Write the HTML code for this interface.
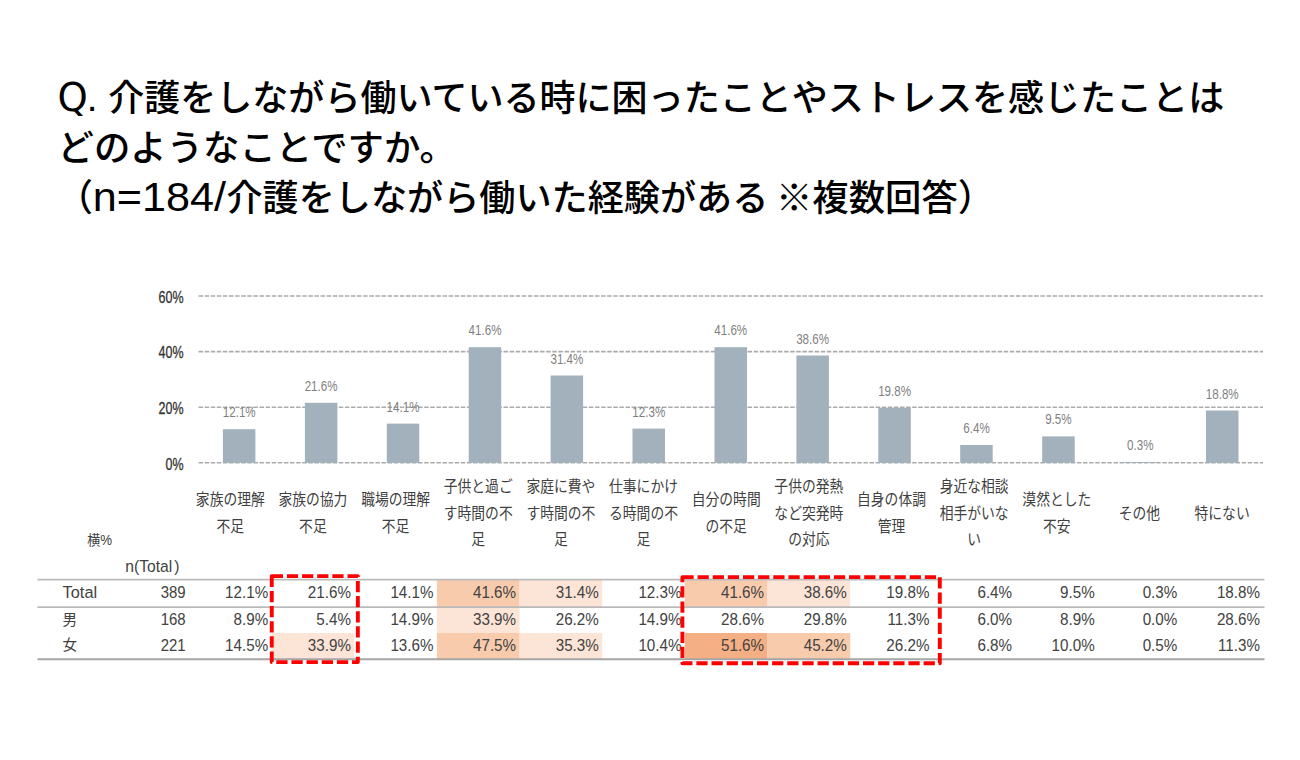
<!DOCTYPE html><html lang="ja"><head><meta charset="utf-8"><title>介護と仕事</title><style>
html,body{margin:0;padding:0;background:#fff;}body{width:1300px;height:760px;overflow:hidden;position:relative;}
svg{position:absolute;left:0;top:0;}
.t{font-family:"Noto Sans CJK JP", "Liberation Sans", sans-serif;fill:#000;}
.lat{font-family:"Liberation Sans",sans-serif;}.dv{font-family:"DejaVu Sans","Liberation Sans",sans-serif;}
.ax{font-family:"Liberation Sans",sans-serif;fill:#333;stroke:#333;stroke-width:0.3px;}
.dl{font-family:"Liberation Sans",sans-serif;fill:#7f7f7f;}
.cat{font-family:"Noto Sans CJK JP", "Liberation Sans", sans-serif;fill:#404040;}
.tb{font-family:"Liberation Sans","Noto Sans CJK JP",sans-serif;fill:#424242;}
</style></head><body>
<svg width="1300" height="760" viewBox="0 0 1300 760">
<text class="t dv" transform="translate(57.6 110.5) scale(1 1.025)" font-size="38.5" font-weight="500" textLength="30.3" lengthAdjust="spacingAndGlyphs">Q</text>
<text class="t lat" transform="translate(86.8 110.5) scale(1 1.025)" font-size="38.5" font-weight="500" >.</text>
<text class="t" transform="translate(108.2 110.5) scale(1 1.025)" font-size="36" font-weight="500" textLength="1116" lengthAdjust="spacingAndGlyphs">介護をしながら働いている時に困ったことやストレスを感じたことは</text>
<text class="t" transform="translate(57.5 161) scale(1 1.025)" font-size="36" font-weight="500" textLength="398.5" lengthAdjust="spacingAndGlyphs">どのようなことですか。</text>
<text class="t" transform="translate(57 210.5) scale(1 1.025)" font-size="36" font-weight="500" >（</text>
<text class="t lat" transform="translate(92.8 210.5) scale(1 1.025)" font-size="40" font-weight="500" textLength="133.2" lengthAdjust="spacingAndGlyphs">n=184/</text>
<text class="t" transform="translate(226.4 210.5) scale(1 1.025)" font-size="36" font-weight="500" textLength="542" lengthAdjust="spacingAndGlyphs">介護をしながら働いた経験がある</text>
<text class="t" transform="translate(776 210.5) scale(1 1.025)" font-size="36" font-weight="500" textLength="218.2" lengthAdjust="spacingAndGlyphs">※複数回答）</text>
<line x1="198.5" y1="462.8" x2="1263" y2="462.8" stroke="#ababab" stroke-width="1.6" stroke-dasharray="4.5 1.6"/>
<text class="ax" font-size="16" text-anchor="end" transform="translate(183.5 469.6) scale(0.78 1)">0%</text>
<line x1="198.5" y1="407.2" x2="1263" y2="407.2" stroke="#ababab" stroke-width="1.6" stroke-dasharray="4.5 1.6"/>
<text class="ax" font-size="16" text-anchor="end" transform="translate(183.5 414.0) scale(0.78 1)">20%</text>
<line x1="198.5" y1="351.6" x2="1263" y2="351.6" stroke="#ababab" stroke-width="1.6" stroke-dasharray="4.5 1.6"/>
<text class="ax" font-size="16" text-anchor="end" transform="translate(183.5 358.4) scale(0.78 1)">40%</text>
<line x1="198.5" y1="296.0" x2="1263" y2="296.0" stroke="#ababab" stroke-width="1.6" stroke-dasharray="4.5 1.6"/>
<text class="ax" font-size="16" text-anchor="end" transform="translate(183.5 302.8) scale(0.78 1)">60%</text>
<rect x="222.9" y="429.2" width="32.5" height="33.6" fill="#a2b1bb"/>
<text class="dl" font-size="14" text-anchor="middle" transform="translate(239.2 417.2) scale(0.83 1)">12.1%</text>
<rect x="304.9" y="402.8" width="32.5" height="60.0" fill="#a2b1bb"/>
<text class="dl" font-size="14" text-anchor="middle" transform="translate(321.1 390.8) scale(0.83 1)">21.6%</text>
<rect x="386.8" y="423.6" width="32.5" height="39.2" fill="#a2b1bb"/>
<text class="dl" font-size="14" text-anchor="middle" transform="translate(403.0 411.6) scale(0.83 1)">14.1%</text>
<rect x="468.7" y="347.2" width="32.5" height="115.6" fill="#a2b1bb"/>
<text class="dl" font-size="14" text-anchor="middle" transform="translate(485.0 335.2) scale(0.83 1)">41.6%</text>
<rect x="550.6" y="375.5" width="32.5" height="87.3" fill="#a2b1bb"/>
<text class="dl" font-size="14" text-anchor="middle" transform="translate(566.9 363.5) scale(0.83 1)">31.4%</text>
<rect x="632.5" y="428.6" width="32.5" height="34.2" fill="#a2b1bb"/>
<text class="dl" font-size="14" text-anchor="middle" transform="translate(648.8 416.6) scale(0.83 1)">12.3%</text>
<rect x="714.5" y="347.2" width="32.5" height="115.6" fill="#a2b1bb"/>
<text class="dl" font-size="14" text-anchor="middle" transform="translate(730.7 335.2) scale(0.83 1)">41.6%</text>
<rect x="796.4" y="355.5" width="32.5" height="107.3" fill="#a2b1bb"/>
<text class="dl" font-size="14" text-anchor="middle" transform="translate(812.6 343.5) scale(0.83 1)">38.6%</text>
<rect x="878.3" y="407.8" width="32.5" height="55.0" fill="#a2b1bb"/>
<text class="dl" font-size="14" text-anchor="middle" transform="translate(894.6 395.8) scale(0.83 1)">19.8%</text>
<rect x="960.2" y="445.0" width="32.5" height="17.8" fill="#a2b1bb"/>
<text class="dl" font-size="14" text-anchor="middle" transform="translate(976.5 433.0) scale(0.83 1)">6.4%</text>
<rect x="1042.2" y="436.4" width="32.5" height="26.4" fill="#a2b1bb"/>
<text class="dl" font-size="14" text-anchor="middle" transform="translate(1058.4 424.4) scale(0.83 1)">9.5%</text>
<rect x="1124.1" y="462.0" width="32.5" height="0.8" fill="#a2b1bb"/>
<text class="dl" font-size="14" text-anchor="middle" transform="translate(1140.3 450.0) scale(0.83 1)">0.3%</text>
<rect x="1206.0" y="410.5" width="32.5" height="52.3" fill="#a2b1bb"/>
<text class="dl" font-size="14" text-anchor="middle" transform="translate(1222.2 398.5) scale(0.83 1)">18.8%</text>
<text class="cat" font-size="13.8" text-anchor="middle" transform="translate(230.3 505.2) scale(1 1.125)">家族の理解</text>
<text class="cat" font-size="13.8" text-anchor="middle" transform="translate(230.3 531.8) scale(1 1.125)">不足</text>
<text class="cat" font-size="13.8" text-anchor="middle" transform="translate(312.9 505.2) scale(1 1.125)">家族の協力</text>
<text class="cat" font-size="13.8" text-anchor="middle" transform="translate(312.9 531.8) scale(1 1.125)">不足</text>
<text class="cat" font-size="13.8" text-anchor="middle" transform="translate(395.6 505.2) scale(1 1.125)">職場の理解</text>
<text class="cat" font-size="13.8" text-anchor="middle" transform="translate(395.6 531.8) scale(1 1.125)">不足</text>
<text class="cat" font-size="13.8" text-anchor="middle" transform="translate(478.2 492.0) scale(1 1.125)">子供と過ご</text>
<text class="cat" font-size="13.8" text-anchor="middle" transform="translate(478.2 518.5) scale(1 1.125)">す時間の不</text>
<text class="cat" font-size="13.8" text-anchor="middle" transform="translate(478.2 545.0) scale(1 1.125)">足</text>
<text class="cat" font-size="13.8" text-anchor="middle" transform="translate(560.9 492.0) scale(1 1.125)">家庭に費や</text>
<text class="cat" font-size="13.8" text-anchor="middle" transform="translate(560.9 518.5) scale(1 1.125)">す時間の不</text>
<text class="cat" font-size="13.8" text-anchor="middle" transform="translate(560.9 545.0) scale(1 1.125)">足</text>
<text class="cat" font-size="13.8" text-anchor="middle" transform="translate(643.5 492.0) scale(1 1.125)">仕事にかけ</text>
<text class="cat" font-size="13.8" text-anchor="middle" transform="translate(643.5 518.5) scale(1 1.125)">る時間の不</text>
<text class="cat" font-size="13.8" text-anchor="middle" transform="translate(643.5 545.0) scale(1 1.125)">足</text>
<text class="cat" font-size="13.8" text-anchor="middle" transform="translate(726.2 505.2) scale(1 1.125)">自分の時間</text>
<text class="cat" font-size="13.8" text-anchor="middle" transform="translate(726.2 531.8) scale(1 1.125)">の不足</text>
<text class="cat" font-size="13.8" text-anchor="middle" transform="translate(808.8 492.0) scale(1 1.125)">子供の発熱</text>
<text class="cat" font-size="13.8" text-anchor="middle" transform="translate(808.8 518.5) scale(1 1.125)">など突発時</text>
<text class="cat" font-size="13.8" text-anchor="middle" transform="translate(808.8 545.0) scale(1 1.125)">の対応</text>
<text class="cat" font-size="13.8" text-anchor="middle" transform="translate(891.5 505.2) scale(1 1.125)">自身の体調</text>
<text class="cat" font-size="13.8" text-anchor="middle" transform="translate(891.5 531.8) scale(1 1.125)">管理</text>
<text class="cat" font-size="13.8" text-anchor="middle" transform="translate(974.1 492.0) scale(1 1.125)">身近な相談</text>
<text class="cat" font-size="13.8" text-anchor="middle" transform="translate(974.1 518.5) scale(1 1.125)">相手がいな</text>
<text class="cat" font-size="13.8" text-anchor="middle" transform="translate(974.1 545.0) scale(1 1.125)">い</text>
<text class="cat" font-size="13.8" text-anchor="middle" transform="translate(1056.8 505.2) scale(1 1.125)">漠然とした</text>
<text class="cat" font-size="13.8" text-anchor="middle" transform="translate(1056.8 531.8) scale(1 1.125)">不安</text>
<text class="cat" font-size="13.8" text-anchor="middle" transform="translate(1139.4 518.5) scale(1 1.125)">その他</text>
<text class="cat" font-size="13.8" text-anchor="middle" transform="translate(1222.1 518.5) scale(1 1.125)">特にない</text>
<text class="tb" font-size="13" font-family="Noto Sans CJK JP" transform="translate(87.3 544.6) scale(1 1.05)">横</text>
<text class="tb" font-size="14" transform="translate(100.3 544.8) scale(0.95 1)">%</text>
<text class="tb" font-size="16.5" transform="translate(125.3 571.6) scale(0.95 1)">n(Total</text>
<text class="tb" font-size="16.5" transform="translate(174.2 571.6) scale(0.95 1)">)</text>
<rect x="436.9" y="579.5" width="82.7" height="27.5" fill="#f8cbad"/>
<rect x="519.5" y="579.5" width="82.7" height="27.5" fill="#fce4d6"/>
<rect x="684.9" y="579.5" width="82.7" height="27.5" fill="#f8cbad"/>
<rect x="767.5" y="579.5" width="82.7" height="27.5" fill="#fce4d6"/>
<rect x="436.9" y="607.0" width="82.7" height="26.0" fill="#fce4d6"/>
<rect x="271.6" y="633.0" width="82.7" height="26.0" fill="#fce4d6"/>
<rect x="436.9" y="633.0" width="82.7" height="26.0" fill="#f8cbad"/>
<rect x="519.5" y="633.0" width="82.7" height="26.0" fill="#fce4d6"/>
<rect x="684.9" y="633.0" width="82.7" height="26.0" fill="#f4b084"/>
<rect x="767.5" y="633.0" width="82.7" height="26.0" fill="#f8cbad"/>
<line x1="37.5" y1="579.7" x2="1264.5" y2="579.7" stroke="#bababa" stroke-width="1.8"/>
<line x1="37.5" y1="607.2" x2="1264.5" y2="607.2" stroke="#bababa" stroke-width="1.8"/>
<line x1="37.5" y1="659.2" x2="1264.5" y2="659.2" stroke="#a6a6a6" stroke-width="2"/>
<text class="tb" font-size="16.5" transform="translate(62.6 597.6) scale(0.99 1)">Total</text>
<text class="tb" font-size="16.8" text-anchor="end" transform="translate(185.6 597.6) scale(0.89 1)">389</text>
<text class="tb" font-size="16.8" text-anchor="end" transform="translate(268.2 597.6) scale(0.905 1)">12.1%</text>
<text class="tb" font-size="16.8" text-anchor="end" transform="translate(350.9 597.6) scale(0.905 1)">21.6%</text>
<text class="tb" font-size="16.8" text-anchor="end" transform="translate(433.5 597.6) scale(0.905 1)">14.1%</text>
<text class="tb" font-size="16.8" text-anchor="end" transform="translate(516.1 597.6) scale(0.905 1)">41.6%</text>
<text class="tb" font-size="16.8" text-anchor="end" transform="translate(598.8 597.6) scale(0.905 1)">31.4%</text>
<text class="tb" font-size="16.8" text-anchor="end" transform="translate(681.5 597.6) scale(0.905 1)">12.3%</text>
<text class="tb" font-size="16.8" text-anchor="end" transform="translate(764.1 597.6) scale(0.905 1)">41.6%</text>
<text class="tb" font-size="16.8" text-anchor="end" transform="translate(846.8 597.6) scale(0.905 1)">38.6%</text>
<text class="tb" font-size="16.8" text-anchor="end" transform="translate(929.4 597.6) scale(0.905 1)">19.8%</text>
<text class="tb" font-size="16.8" text-anchor="end" transform="translate(1012.1 597.6) scale(0.905 1)">6.4%</text>
<text class="tb" font-size="16.8" text-anchor="end" transform="translate(1094.7 597.6) scale(0.905 1)">9.5%</text>
<text class="tb" font-size="16.8" text-anchor="end" transform="translate(1177.3 597.6) scale(0.905 1)">0.3%</text>
<text class="tb" font-size="16.8" text-anchor="end" transform="translate(1260.0 597.6) scale(0.905 1)">18.8%</text>
<text class="tb" font-size="14.6" font-family="Noto Sans CJK JP" transform="translate(62.4 624.9) scale(1 1.04)">男</text>
<text class="tb" font-size="16.8" text-anchor="end" transform="translate(185.6 624.9) scale(0.89 1)">168</text>
<text class="tb" font-size="16.8" text-anchor="end" transform="translate(268.2 624.9) scale(0.905 1)">8.9%</text>
<text class="tb" font-size="16.8" text-anchor="end" transform="translate(350.9 624.9) scale(0.905 1)">5.4%</text>
<text class="tb" font-size="16.8" text-anchor="end" transform="translate(433.5 624.9) scale(0.905 1)">14.9%</text>
<text class="tb" font-size="16.8" text-anchor="end" transform="translate(516.1 624.9) scale(0.905 1)">33.9%</text>
<text class="tb" font-size="16.8" text-anchor="end" transform="translate(598.8 624.9) scale(0.905 1)">26.2%</text>
<text class="tb" font-size="16.8" text-anchor="end" transform="translate(681.5 624.9) scale(0.905 1)">14.9%</text>
<text class="tb" font-size="16.8" text-anchor="end" transform="translate(764.1 624.9) scale(0.905 1)">28.6%</text>
<text class="tb" font-size="16.8" text-anchor="end" transform="translate(846.8 624.9) scale(0.905 1)">29.8%</text>
<text class="tb" font-size="16.8" text-anchor="end" transform="translate(929.4 624.9) scale(0.905 1)">11.3%</text>
<text class="tb" font-size="16.8" text-anchor="end" transform="translate(1012.1 624.9) scale(0.905 1)">6.0%</text>
<text class="tb" font-size="16.8" text-anchor="end" transform="translate(1094.7 624.9) scale(0.905 1)">8.9%</text>
<text class="tb" font-size="16.8" text-anchor="end" transform="translate(1177.3 624.9) scale(0.905 1)">0.0%</text>
<text class="tb" font-size="16.8" text-anchor="end" transform="translate(1260.0 624.9) scale(0.905 1)">28.6%</text>
<text class="tb" font-size="14.6" font-family="Noto Sans CJK JP" transform="translate(62.4 650.0) scale(1 1.04)">女</text>
<text class="tb" font-size="16.8" text-anchor="end" transform="translate(185.6 651.2) scale(0.89 1)">221</text>
<text class="tb" font-size="16.8" text-anchor="end" transform="translate(268.2 651.2) scale(0.905 1)">14.5%</text>
<text class="tb" font-size="16.8" text-anchor="end" transform="translate(350.9 651.2) scale(0.905 1)">33.9%</text>
<text class="tb" font-size="16.8" text-anchor="end" transform="translate(433.5 651.2) scale(0.905 1)">13.6%</text>
<text class="tb" font-size="16.8" text-anchor="end" transform="translate(516.1 651.2) scale(0.905 1)">47.5%</text>
<text class="tb" font-size="16.8" text-anchor="end" transform="translate(598.8 651.2) scale(0.905 1)">35.3%</text>
<text class="tb" font-size="16.8" text-anchor="end" transform="translate(681.5 651.2) scale(0.905 1)">10.4%</text>
<text class="tb" font-size="16.8" text-anchor="end" transform="translate(764.1 651.2) scale(0.905 1)">51.6%</text>
<text class="tb" font-size="16.8" text-anchor="end" transform="translate(846.8 651.2) scale(0.905 1)">45.2%</text>
<text class="tb" font-size="16.8" text-anchor="end" transform="translate(929.4 651.2) scale(0.905 1)">26.2%</text>
<text class="tb" font-size="16.8" text-anchor="end" transform="translate(1012.1 651.2) scale(0.905 1)">6.8%</text>
<text class="tb" font-size="16.8" text-anchor="end" transform="translate(1094.7 651.2) scale(0.905 1)">10.0%</text>
<text class="tb" font-size="16.8" text-anchor="end" transform="translate(1177.3 651.2) scale(0.905 1)">0.5%</text>
<text class="tb" font-size="16.8" text-anchor="end" transform="translate(1260.0 651.2) scale(0.905 1)">11.3%</text>
<path d="M271.75 576.1H357.85V662.1H271.75Z" fill="none" stroke="#ff0000" stroke-width="3.9" stroke-dasharray="11.25 3.9" stroke-linejoin="round"/>
<path d="M682.4 577.1H939.8V663.2H682.4Z" fill="none" stroke="#ff0000" stroke-width="3.9" stroke-dasharray="11.25 3.9" stroke-linejoin="round"/>
</svg></body></html>
